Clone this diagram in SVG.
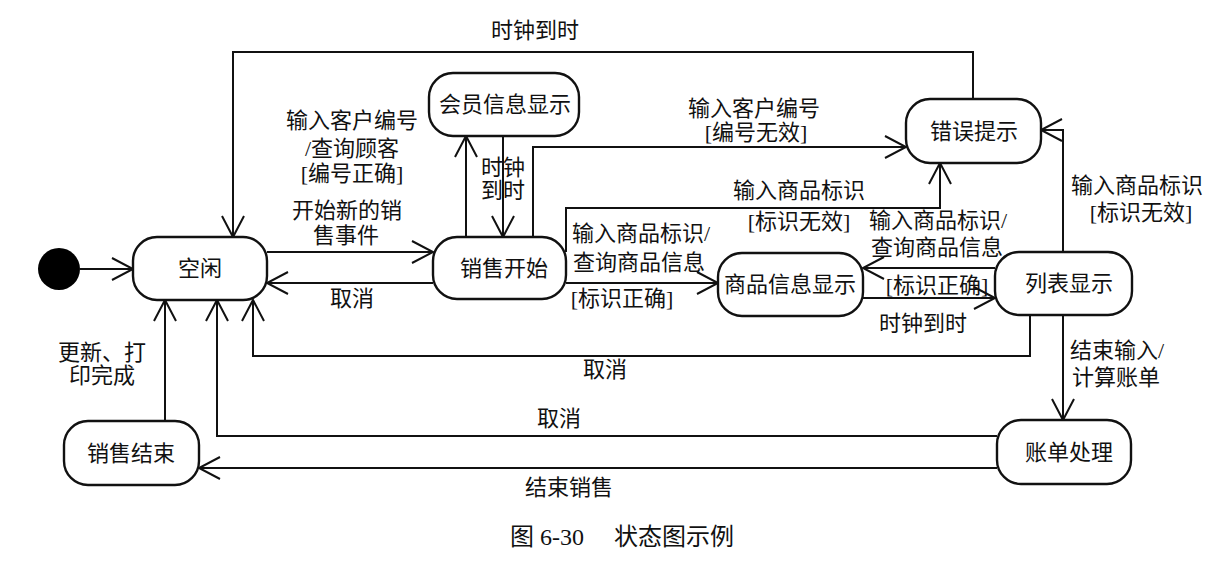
<svg xmlns="http://www.w3.org/2000/svg" width="1230" height="566" viewBox="0 0 1230 566">
  <style>
    .state rect { fill: #fff; stroke: #111; stroke-width: 2.4; }
    .state text, .lbl { font-family: "Liberation Serif", "Noto Sans CJK SC", serif; font-size: 22px; fill: #111; text-anchor: middle; }
    .edge { fill: none; stroke: #111; stroke-width: 2; marker-end: url(#open); }
    .cap { font-family: "Liberation Serif", "Noto Sans CJK SC", serif; font-size: 24px; fill: #111; text-anchor: middle; }
  </style>
  <defs>
    <marker id="open" markerUnits="userSpaceOnUse" markerWidth="24" markerHeight="24" refX="21" refY="11" orient="auto" overflow="visible">
      <path d="M0,0 L21,11 L0,22" fill="none" stroke="#111" stroke-width="2"/>
    </marker>
  </defs>

  <rect width="1230" height="566" fill="#fff"/>

  <!-- transitions -->
  <g id="connectors">
    <path class="edge" d="M80,269 H133"/>
    <path class="edge" d="M973,99 V52 H233 V237"/>
    <path class="edge" d="M267,252 H433"/>
    <path class="edge" d="M433,283 H267"/>
    <path class="edge" d="M466,237 V136"/>
    <path class="edge" d="M503,136 V237"/>
    <path class="edge" d="M533,237 V147 H906"/>
    <path class="edge" d="M566,252 V208 H940 V163"/>
    <path class="edge" d="M566,283 H718"/>
    <path class="edge" d="M995,268 H863"/>
    <path class="edge" d="M863,298 H995"/>
    <path class="edge" d="M1063,252 V130 H1041"/>
    <path class="edge" d="M1030,315 V356 H253 V300"/>
    <path class="edge" d="M1063,315 V420"/>
    <path class="edge" d="M997,436 H217 V300"/>
    <path class="edge" d="M997,468 H199"/>
    <path class="edge" d="M165,421 V300"/>
  </g>

  <!-- transition labels -->
  <g id="labels">
    <text class="lbl" x="535" y="38">时钟到时</text>
    <text class="lbl" x="352" y="128">输入客户编号</text>
    <text class="lbl" x="352" y="156">/查询顾客</text>
    <text class="lbl" x="352" y="181">[编号正确]</text>
    <text class="lbl" x="347" y="218">开始新的销</text>
    <text class="lbl" x="346" y="243">售事件</text>
    <text class="lbl" x="352" y="306">取消</text>
    <text class="lbl" x="503" y="175">时钟</text>
    <text class="lbl" x="503" y="198">到时</text>
    <text class="lbl" x="754" y="116">输入客户编号</text>
    <text class="lbl" x="756" y="140">[编号无效]</text>
    <text class="lbl" x="799" y="198">输入商品标识</text>
    <text class="lbl" x="799" y="229">[标识无效]</text>
    <text class="lbl" x="641" y="241">输入商品标识/</text>
    <text class="lbl" x="639" y="270">查询商品信息</text>
    <text class="lbl" x="622" y="306">[标识正确]</text>
    <text class="lbl" x="938" y="228">输入商品标识/</text>
    <text class="lbl" x="937" y="255">查询商品信息</text>
    <text class="lbl" x="937" y="293">[标识正确]</text>
    <text class="lbl" x="923" y="331">时钟到时</text>
    <text class="lbl" x="1137" y="193">输入商品标识</text>
    <text class="lbl" x="1141" y="220">[标识无效]</text>
    <text class="lbl" x="1117" y="358">结束输入/</text>
    <text class="lbl" x="1116" y="385">计算账单</text>
    <text class="lbl" x="605" y="377">取消</text>
    <text class="lbl" x="559" y="426">取消</text>
    <text class="lbl" x="569" y="495">结束销售</text>
    <text class="lbl" x="102" y="360">更新、打</text>
    <text class="lbl" x="102" y="383">印完成</text>
  </g>

  <!-- states -->
  <g id="initial">
    <circle cx="59" cy="269" r="21" fill="#000"/>
  </g>
  <g id="idle" class="state">
    <rect x="133" y="237" width="134" height="63" rx="24"/>
    <text x="200" y="276">空闲</text>
  </g>
  <g id="sale-start" class="state">
    <rect x="433" y="237" width="133" height="62" rx="24"/>
    <text x="504" y="276">销售开始</text>
  </g>
  <g id="member-info" class="state">
    <rect x="429" y="73" width="150" height="63" rx="24"/>
    <text x="505" y="112">会员信息显示</text>
  </g>
  <g id="error" class="state">
    <rect x="906" y="99" width="135" height="64" rx="24"/>
    <text x="974" y="139">错误提示</text>
  </g>
  <g id="item-info" class="state">
    <rect x="718" y="253" width="145" height="63" rx="24"/>
    <text x="790" y="292">商品信息显示</text>
  </g>
  <g id="list" class="state">
    <rect x="995" y="252" width="137" height="63" rx="24"/>
    <text x="1069" y="291">列表显示</text>
  </g>
  <g id="billing" class="state">
    <rect x="997" y="420" width="134" height="64" rx="24"/>
    <text x="1069" y="460">账单处理</text>
  </g>
  <g id="sale-end" class="state">
    <rect x="64" y="421" width="135" height="64" rx="24"/>
    <text x="131" y="461">销售结束</text>
  </g>

  <text class="cap" x="622" y="545" xml:space="preserve">图 6-30　 状态图示例</text>
</svg>
